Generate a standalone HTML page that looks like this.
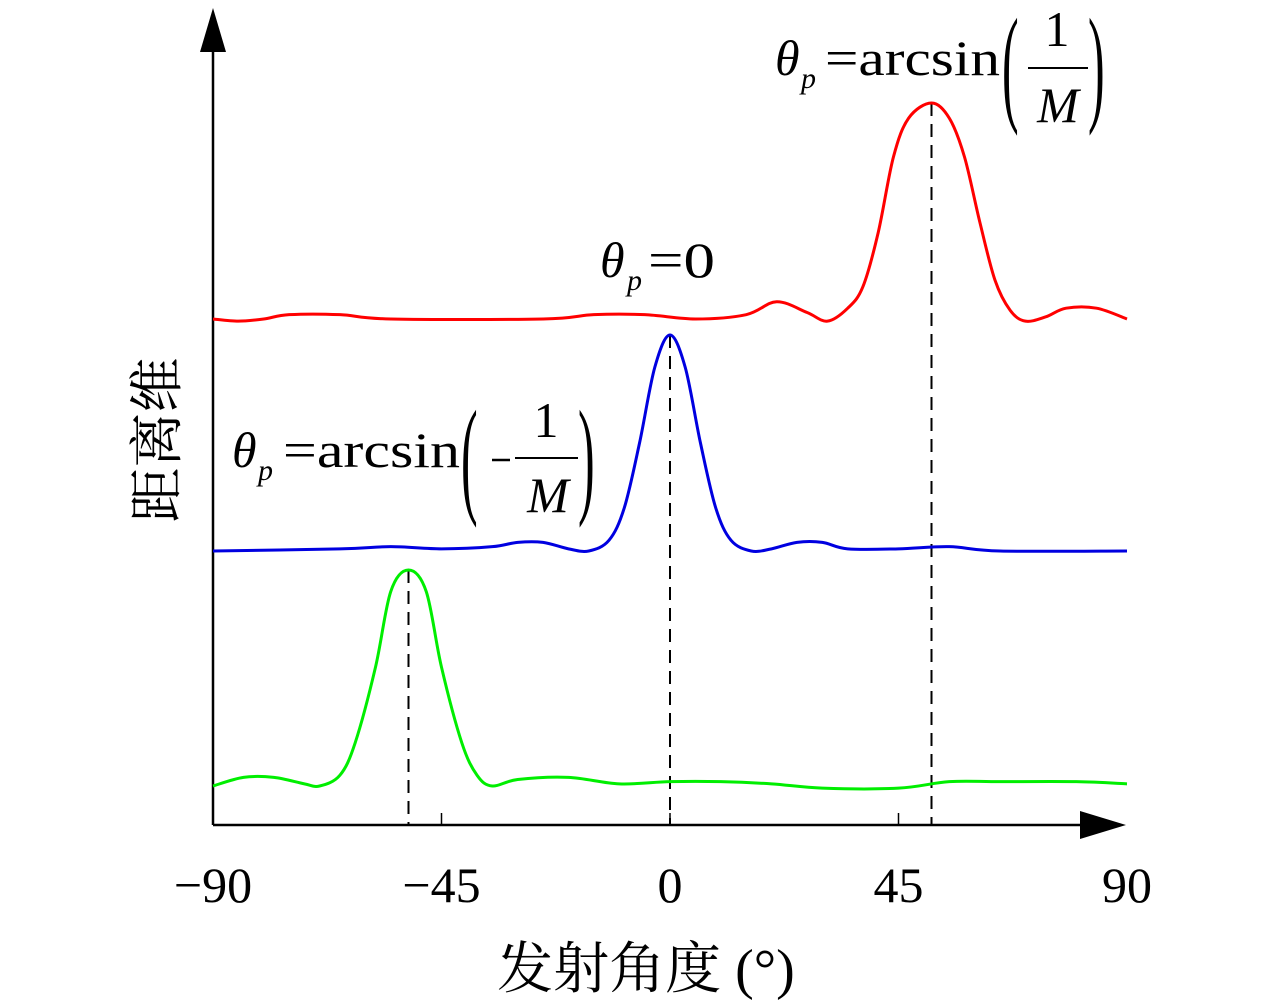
<!DOCTYPE html>
<html><head><meta charset="utf-8"><style>
html,body{margin:0;padding:0;background:#fff;}
svg{display:block;}
text{font-family:"Liberation Serif","Noto Serif CJK SC",serif;fill:#000;}
.cjk{font-family:"Liberation Serif","Noto Serif CJK SC","Noto Sans CJK SC",serif;}
</style></head><body>
<svg id="chart" width="1280" height="1001" viewBox="0 0 1280 1001">
<g id="axes">
  <line x1="213" y1="40" x2="213" y2="825" stroke="#000" stroke-width="2.5"/>
  <polygon points="213,8 200,52 226,52" fill="#000"/>
  <line x1="213" y1="825" x2="1090" y2="825" stroke="#000" stroke-width="2.5"/>
  <polygon points="1126,825 1080,811 1080,839" fill="#000"/>
</g>
<g id="ticks"></g>
<g id="guides"></g>
<g id="series"></g>
<text x="646" y="988" font-size="56" text-anchor="middle" class="cjk">发射角度 (°)</text>
<text transform="translate(176,440) rotate(-90)" font-size="55" text-anchor="middle" class="cjk">距离维</text>

<g>
  <text x="775" y="75" font-size="50" font-style="italic">θ</text>
  <text x="801" y="88" font-size="30" font-style="italic">p</text>
  <text x="825" y="75" font-size="50" textLength="175" lengthAdjust="spacingAndGlyphs">=arcsin</text>
  <text transform="translate(1002,108) scale(1,2.6)" font-size="50">(</text>
  <text x="1057" y="46" font-size="50" text-anchor="middle">1</text>
  <line x1="1028" y1="68" x2="1088" y2="68" stroke="#000" stroke-width="2"/>
  <text x="1058" y="122" font-size="50" font-style="italic" text-anchor="middle">M</text>
  <text transform="translate(1088,108) scale(1,2.6)" font-size="50">)</text>
</g>
<g>
  <text x="600" y="277" font-size="50" font-style="italic">θ</text>
  <text x="627" y="290" font-size="30" font-style="italic">p</text>
  <text x="648" y="277" font-size="50" textLength="67" lengthAdjust="spacingAndGlyphs">=0</text>
</g>
<g>
  <text x="232" y="467" font-size="50" font-style="italic">θ</text>
  <text x="258" y="480" font-size="30" font-style="italic">p</text>
  <text x="283" y="467" font-size="50" textLength="177" lengthAdjust="spacingAndGlyphs">=arcsin</text>
  <text transform="translate(461,500) scale(1,2.6)" font-size="50">(</text>
  <line x1="492" y1="460" x2="510" y2="460" stroke="#000" stroke-width="2.5"/>
  <text x="546" y="437" font-size="50" text-anchor="middle">1</text>
  <line x1="515" y1="458" x2="578" y2="458" stroke="#000" stroke-width="2"/>
  <text x="548" y="512" font-size="50" font-style="italic" text-anchor="middle">M</text>
  <text transform="translate(578,500) scale(1,2.6)" font-size="50">)</text>
</g>
</svg>
<script>
const tickValues = [-90, -45, 0, 45, 90];
const tickLabels = ["−90", "−45", "0", "45", "90"];
const redAngles = [-90,-85,-80,-75,-65,-55,-25,-15,-5,5,15,21,27,31,35,38,41,44,47,51.5,55,58,61,64,67,70,74,78,84,90];
const redValues = [0,-0.01,0,0.02,0.02,0,0,0.02,0.02,0,0.02,0.08,0.03,-0.01,0.05,0.15,0.4,0.75,0.93,1,0.93,0.75,0.45,0.18,0.04,-0.01,0.01,0.05,0.05,0];
const blueAngles = [-90,-65,-55,-45,-35,-30,-25,-20,-16,-12,-9,-6,-3,0,3,6,9,12,16,20,25,30,35,45,55,65,90];
const blueValues = [0,0.01,0.02,0.01,0.02,0.04,0.04,0.01,0,0.05,0.2,0.5,0.85,1,0.85,0.5,0.2,0.05,0,0.01,0.04,0.04,0.01,0.01,0.02,0,0];
const greenAngles = [-90,-84,-78,-72,-69,-65,-62,-58,-55,-51.5,-48,-45,-41,-38,-35,-30,-20,-10,0,10,20,30,45,55,65,80,90];
const greenValues = [0,0.04,0.04,0.01,0,0.05,0.2,0.55,0.9,1,0.9,0.55,0.2,0.05,0,0.03,0.04,0.01,0.02,0.02,0.01,-0.01,-0.01,0.02,0.02,0.02,0.01];
const peakAngles = [51.5, 0, -51.5];

const NS = "http://www.w3.org/2000/svg";
const xScale = a => 213 + (a + 90) * (914 / 180);
const yScale = (v, base) => base - v * 216;
const seriesList = [
  {name:"series-red", color:"#f00", base:319, a:redAngles, v:redValues},
  {name:"series-blue", color:"#0000e0", base:551, a:blueAngles, v:blueValues},
  {name:"series-green", color:"#0e0", base:786, a:greenAngles, v:greenValues}
];
const tg = document.getElementById("ticks");
tickValues.forEach((t, i) => {
  if (t !== -90 && t !== 90) {
    const l = document.createElementNS(NS, "line");
    l.setAttribute("x1", xScale(t)); l.setAttribute("x2", xScale(t));
    l.setAttribute("y1", 825); l.setAttribute("y2", 813);
    l.setAttribute("stroke", "#000"); l.setAttribute("stroke-width", "1.5");
    
    
    tg.appendChild(l);
  }
  const tx = document.createElementNS(NS, "text");
  tx.setAttribute("x", xScale(t)); tx.setAttribute("y", 902);
  tx.setAttribute("font-size", "50"); tx.setAttribute("text-anchor", "middle");
  tx.textContent = tickLabels[i];
  
  
  tg.appendChild(tx);
});
const sg = document.getElementById("series");
const gg = document.getElementById("guides");
seriesList.forEach((s, k) => {
  const pts = s.a.map((a, i) => [xScale(a), yScale(s.v[i], s.base)]);
  let d = "M" + pts[0][0] + "," + pts[0][1];
  for (let i = 0; i < pts.length - 1; i++) {
    const p0 = pts[Math.max(0, i - 1)], p1 = pts[i], p2 = pts[i + 1], p3 = pts[Math.min(pts.length - 1, i + 2)];
    const c1 = [p1[0] + (p2[0] - p0[0]) / 6, p1[1] + (p2[1] - p0[1]) / 6];
    const c2 = [p2[0] - (p3[0] - p1[0]) / 6, p2[1] - (p3[1] - p1[1]) / 6];
    d += " C" + c1 + " " + c2 + " " + p2;
  }
  const path = document.createElementNS(NS, "path");
  path.setAttribute("d", d); path.setAttribute("fill", "none");
  path.setAttribute("stroke", s.color); path.setAttribute("stroke-width", "3");
  
  
  sg.appendChild(path);
  const pa = peakAngles[k];
  const dl = document.createElementNS(NS, "line");
  dl.setAttribute("x1", xScale(pa)); dl.setAttribute("x2", xScale(pa));
  dl.setAttribute("y1", yScale(1, s.base)); dl.setAttribute("y2", 825);
  dl.setAttribute("stroke", "#000"); dl.setAttribute("stroke-width", "2");
  dl.setAttribute("stroke-dasharray", "13,8");
  
  
  gg.appendChild(dl);
});
</script>
</body></html>
